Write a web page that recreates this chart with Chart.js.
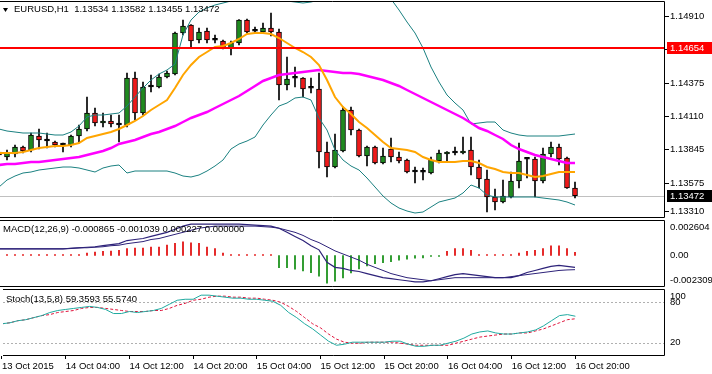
<!DOCTYPE html>
<html lang="en">
<head>
<meta charset="utf-8">
<title>EURUSD,H1</title>
<script src="https://cdn.jsdelivr.net/npm/chart.js@4.4.1/dist/chart.umd.min.js"></script>
<style>
    html, body { margin: 0; padding: 0; background: #fff; }
    body { position: relative; width: 712px; height: 374px; overflow: hidden; }
    canvas { position: absolute; left: 0; }
</style>
</head>
<body>
<canvas id="price" width="712" height="219" style="top:0"></canvas>
<canvas id="macd" width="712" height="70" style="top:219px"></canvas>
<canvas id="stoch" width="712" height="86" style="top:288px"></canvas>
<script>
'use strict';

// ---- values ----

const symbol = 'EURUSD,H1';
const timeTicks = ['13 Oct 2015', '14 Oct 04:00', '14 Oct 12:00', '14 Oct 20:00', '15 Oct 04:00',
    '15 Oct 12:00', '15 Oct 20:00', '16 Oct 04:00', '16 Oct 12:00', '16 Oct 20:00'];
const BARS_PER_TICK = 8;

const opens = [
    1.13822, 1.13782, 1.13806, 1.13862, 1.13838, 1.13950, 1.13910, 1.13902, 1.13878, 1.13878,
    1.13950, 1.14006, 1.14134, 1.14054, 1.14070, 1.14038, 1.14038, 1.14414, 1.14134, 1.14342,
    1.14342, 1.14422, 1.14446, 1.14774, 1.14838, 1.14718, 1.14790, 1.14718, 1.14710, 1.14654,
    1.14694, 1.14878, 1.14790, 1.14782, 1.14814, 1.14782, 1.14358, 1.14414, 1.14414, 1.14334,
    1.14326, 1.13822, 1.13702, 1.13830, 1.14158, 1.13998, 1.13790, 1.13862, 1.13734, 1.13846,
    1.13782, 1.13758, 1.13662, 1.13662, 1.13654, 1.13750, 1.13806, 1.13814, 1.13814, 1.13838,
    1.13702, 1.13606, 1.13462, 1.13422, 1.13462, 1.13590, 1.13766, 1.13766, 1.13590, 1.13806,
    1.13862, 1.13774, 1.13534,
];
const highs = [
    1.13838, 1.13838, 1.13878, 1.13870, 1.13974, 1.14006, 1.13974, 1.13910, 1.13894, 1.13958,
    1.14038, 1.14262, 1.14174, 1.14134, 1.14118, 1.14118, 1.14454, 1.14462, 1.14382, 1.14438,
    1.14446, 1.14470, 1.14782, 1.14878, 1.14842, 1.14814, 1.14814, 1.14758, 1.14718, 1.14710,
    1.14882, 1.14886, 1.14822, 1.14854, 1.14934, 1.14806, 1.14582, 1.14502, 1.14418, 1.14414,
    1.14454, 1.13902, 1.13966, 1.14182, 1.14182, 1.14006, 1.13870, 1.13870, 1.13854, 1.13934,
    1.13822, 1.13766, 1.13702, 1.13694, 1.13782, 1.13838, 1.13826, 1.13862, 1.13942, 1.13942,
    1.13758, 1.13678, 1.13526, 1.13598, 1.13662, 1.13894, 1.13774, 1.13782, 1.13854, 1.13902,
    1.13886, 1.13782, 1.13582,
];
const lows = [
    1.13782, 1.13758, 1.13782, 1.13814, 1.13822, 1.13846, 1.13854, 1.13862, 1.13822, 1.13862,
    1.13894, 1.13990, 1.14030, 1.14022, 1.14022, 1.13902, 1.14022, 1.14078, 1.14118, 1.14302,
    1.14334, 1.14414, 1.14438, 1.14758, 1.14662, 1.14694, 1.14694, 1.14694, 1.14646, 1.14598,
    1.14678, 1.14774, 1.14774, 1.14774, 1.14750, 1.14238, 1.14318, 1.14342, 1.14262, 1.14294,
    1.13694, 1.13622, 1.13694, 1.13822, 1.13958, 1.13782, 1.13710, 1.13726, 1.13726, 1.13742,
    1.13734, 1.13654, 1.13574, 1.13598, 1.13646, 1.13734, 1.13742, 1.13798, 1.13806, 1.13638,
    1.13534, 1.13342, 1.13358, 1.13414, 1.13454, 1.13534, 1.13614, 1.13462, 1.13574, 1.13782,
    1.13718, 1.13530, 1.13455,
];
const closes = [
    1.13798, 1.13814, 1.13862, 1.13830, 1.13958, 1.13918, 1.13912, 1.13878, 1.13880, 1.13950,
    1.14006, 1.14134, 1.14054, 1.14070, 1.14046, 1.14040, 1.14414, 1.14134, 1.14342, 1.14344,
    1.14422, 1.14454, 1.14774, 1.14830, 1.14710, 1.14782, 1.14718, 1.14716, 1.14654, 1.14694,
    1.14878, 1.14782, 1.14788, 1.14814, 1.14782, 1.14358, 1.14406, 1.14412, 1.14326, 1.14332,
    1.13822, 1.13702, 1.13838, 1.14158, 1.13998, 1.13790, 1.13862, 1.13734, 1.13790, 1.13782,
    1.13750, 1.13662, 1.13664, 1.13660, 1.13758, 1.13814, 1.13822, 1.13816, 1.13830, 1.13702,
    1.13606, 1.13462, 1.13422, 1.13470, 1.13590, 1.13750, 1.13764, 1.13590, 1.13806, 1.13862,
    1.13766, 1.13534, 1.13472,
];

// orange fast MA, magenta slow MA, teal bands
const maFast = [
    1.13814, 1.13814, 1.13814, 1.13822, 1.13838, 1.13854, 1.13862, 1.13870, 1.13870, 1.13878,
    1.13894, 1.13934, 1.13950, 1.13966, 1.13982, 1.14006, 1.14038, 1.14070, 1.14110, 1.14158,
    1.14198, 1.14238, 1.14334, 1.14438, 1.14518, 1.14582, 1.14622, 1.14662, 1.14670, 1.14694,
    1.14726, 1.14766, 1.14774, 1.14774, 1.14766, 1.14734, 1.14694, 1.14654, 1.14622, 1.14582,
    1.14518, 1.14398, 1.14262, 1.14182, 1.14126, 1.14062, 1.14014, 1.13958, 1.13902, 1.13854,
    1.13846, 1.13838, 1.13822, 1.13782, 1.13758, 1.13742, 1.13742, 1.13742, 1.13750, 1.13750,
    1.13734, 1.13702, 1.13686, 1.13662, 1.13654, 1.13654, 1.13638, 1.13622, 1.13630, 1.13646,
    1.13662, 1.13662, 1.13662,
];
const maSlow = [
    1.13718, 1.13726, 1.13726, 1.13734, 1.13742, 1.13742, 1.13750, 1.13758, 1.13766, 1.13774,
    1.13782, 1.13798, 1.13814, 1.13830, 1.13854, 1.13886, 1.13902, 1.13918, 1.13942, 1.13966,
    1.13982, 1.14006, 1.14030, 1.14062, 1.14094, 1.14118, 1.14142, 1.14174, 1.14206, 1.14238,
    1.14270, 1.14310, 1.14350, 1.14390, 1.14414, 1.14438, 1.14446, 1.14454, 1.14462, 1.14470,
    1.14478, 1.14470, 1.14462, 1.14454, 1.14454, 1.14446, 1.14430, 1.14414, 1.14398, 1.14374,
    1.14350, 1.14318, 1.14286, 1.14254, 1.14222, 1.14190, 1.14158, 1.14126, 1.14094, 1.14054,
    1.14014, 1.13990, 1.13958, 1.13926, 1.13878, 1.13846, 1.13822, 1.13798, 1.13782, 1.13766,
    1.13750, 1.13734, 1.13734,
];
const bandUpper = [
    1.14006, 1.13990, 1.13982, 1.13974, 1.13974, 1.13974, 1.13966, 1.13958, 1.13958, 1.13982,
    1.14030, 1.14102, 1.14118, 1.14118, 1.14126, 1.14134, 1.14190, 1.14262, 1.14334, 1.14398,
    1.14446, 1.14478, 1.14526, 1.14758, 1.14878, 1.14942, 1.14974, 1.14998, 1.15014, 1.15030,
    1.15054, 1.15070, 1.15078, 1.15070, 1.15062, 1.15046, 1.15030, 1.15022, 1.15014, 1.15022,
    1.15038, 1.15062, 1.15086, 1.15102, 1.15110, 1.15110, 1.15102, 1.15086, 1.15062, 1.15046,
    1.14958, 1.14862, 1.14774, 1.14654, 1.14502, 1.14382, 1.14278, 1.14214, 1.14158, 1.14046,
    1.14054, 1.14062, 1.14062, 1.13998, 1.13974, 1.13958, 1.13950, 1.13950, 1.13950, 1.13950,
    1.13950, 1.13958, 1.13966,
];
const bandLower = [
    1.13542, 1.13598, 1.13630, 1.13654, 1.13662, 1.13678, 1.13686, 1.13694, 1.13702, 1.13702,
    1.13694, 1.13678, 1.13662, 1.13694, 1.13710, 1.13718, 1.13654, 1.13670, 1.13670, 1.13670,
    1.13670, 1.13670, 1.13654, 1.13630, 1.13622, 1.13638, 1.13670, 1.13710, 1.13758, 1.13846,
    1.13886, 1.13910, 1.13942, 1.14038, 1.14118, 1.14190, 1.14214, 1.14254, 1.14262, 1.14238,
    1.14094, 1.13998, 1.13838, 1.13758, 1.13710, 1.13678, 1.13614, 1.13542, 1.13470, 1.13414,
    1.13374, 1.13350, 1.13334, 1.13342, 1.13382, 1.13422, 1.13438, 1.13454, 1.13494, 1.13558,
    1.13534, 1.13478, 1.13462, 1.13462, 1.13462, 1.13462, 1.13462, 1.13462, 1.13454, 1.13446,
    1.13438, 1.13422, 1.13398,
];
const resistanceLevel = 1.14654;
const priceTicks = ['1.14910', '1.14645', '1.14375', '1.14110', '1.13845', '1.13575', '1.13310'];
const priceMin = 1.13294;
const priceMax = 1.15030;

const macdLine = [
    0.000491, 0.000491, 0.000491, 0.000491, 0.000491, 0.000491, 0.000491, 0.000491, 0.000491, 0.000529,
    0.000567, 0.000605, 0.000643, 0.000718, 0.000794, 0.000869, 0.001096, 0.001172, 0.001247, 0.001399,
    0.001550, 0.001701, 0.001928, 0.002155, 0.002306, 0.002306, 0.002306, 0.002306, 0.002306, 0.002306,
    0.002306, 0.002268, 0.002230, 0.002192, 0.002155, 0.002003, 0.001701, 0.001399, 0.001096, 0.000718,
    0.000416, -0.000491, -0.000869, -0.000945, -0.001096, -0.001172, -0.001323, -0.001474, -0.001625, -0.001701,
    -0.001777, -0.001852, -0.001928, -0.001928, -0.001852, -0.001701, -0.001550, -0.001399, -0.001323, -0.001399,
    -0.001474, -0.001550, -0.001625, -0.001625, -0.001625, -0.001474, -0.001247, -0.001096, -0.000945, -0.000794,
    -0.000718, -0.000794, -0.000865,
];
const macdSignal = [
    0.000491, 0.000491, 0.000491, 0.000491, 0.000491, 0.000491, 0.000491, 0.000491, 0.000491, 0.000529,
    0.000567, 0.000567, 0.000605, 0.000643, 0.000718, 0.000756, 0.000869, 0.000945, 0.001021, 0.001172,
    0.001247, 0.001399, 0.001550, 0.001701, 0.001852, 0.002003, 0.002079, 0.002155, 0.002155, 0.002155,
    0.002155, 0.002155, 0.002155, 0.002117, 0.002079, 0.002003, 0.001852, 0.001701, 0.001474, 0.001172,
    0.000945, 0.000643, 0.000340, 0.000113, -0.000113, -0.000340, -0.000643, -0.000869, -0.001096, -0.001323,
    -0.001474, -0.001625, -0.001701, -0.001777, -0.001852, -0.001777, -0.001701, -0.001625, -0.001625, -0.001625,
    -0.001625, -0.001625, -0.001625, -0.001625, -0.001550, -0.001474, -0.001399, -0.001323, -0.001247, -0.001172,
    -0.001096, -0.001058, -0.001039,
];
const macdHist = [
    0.000023, 0.000023, 0.000023, 0.000023, 0.000023, 0.000023, 0.000023, 0.000023, 0.000023, 0.000023,
    0.000023, 0.000174, 0.000249, 0.000302, 0.000325, 0.000378, 0.000507, 0.000552, 0.000552, 0.000627,
    0.000627, 0.000756, 0.000885, 0.001005, 0.000930, 0.000885, 0.000627, 0.000507, 0.000174, 0.000076,
    0.000023, 0.000023, 0.000023, 0.000023, 0.000023, -0.000885, -0.000885, -0.001005, -0.001134, -0.001263,
    -0.001512, -0.002019, -0.001890, -0.001641, -0.001285, -0.000983, -0.000756, -0.000605, -0.000529, -0.000454,
    -0.000340, -0.000265, -0.000204, -0.000174, -0.000023, -0.000023, 0.000302, 0.000507, 0.000507, 0.000378,
    0.000023, 0.000023, 0.000023, 0.000023, 0.000023, 0.000174, 0.000302, 0.000378, 0.000507, 0.000703,
    0.000703, 0.000507, 0.000227,
];
const macdTicks = ['0.002604', '0.00', '-0.002309'];

const stochMain = [
    48.1, 49.6, 52.7, 54.2, 57.3, 60.3, 64.9, 67.9, 69.5, 71.0,
    72.5, 74.0, 72.5, 69.5, 63.4, 63.4, 66.4, 64.9, 66.4, 67.9,
    71.0, 77.1, 83.2, 84.7, 84.7, 90.8, 90.8, 89.3, 87.8, 86.3,
    86.3, 84.7, 84.7, 83.2, 81.7, 75.6, 64.9, 57.3, 48.1, 40.5,
    31.3, 22.1, 16.0, 17.6, 20.6, 20.6, 20.6, 20.6, 20.6, 22.1,
    22.1, 17.6, 14.5, 14.5, 16.0, 16.0, 19.1, 22.1, 26.7, 32.8,
    35.9, 37.4, 34.4, 32.8, 32.8, 34.4, 35.9, 38.9, 45.0, 52.7,
    60.3, 61.8, 59.3593,
];
const stochSignal = [
    48.1, 49.6, 52.7, 54.2, 57.3, 60.3, 61.8, 64.9, 66.4, 67.9,
    71.0, 72.5, 72.5, 71.0, 69.5, 67.9, 66.4, 66.4, 66.4, 67.9,
    67.9, 71.0, 75.6, 78.6, 83.2, 84.7, 87.8, 89.3, 89.3, 87.8,
    87.8, 86.3, 86.3, 84.7, 83.2, 80.2, 74.0, 66.4, 57.3, 48.1,
    42.0, 32.8, 25.2, 20.6, 19.1, 19.1, 20.6, 20.6, 20.6, 20.6,
    19.1, 17.6, 16.0, 16.0, 16.0, 16.0, 16.0, 19.1, 22.1, 25.2,
    28.2, 29.8, 31.3, 32.8, 32.8, 34.4, 34.4, 37.4, 40.5, 45.0,
    49.6, 54.2, 55.574,
];
const stochLevels = [80, 20];
const stochTicks = ['100', '80', '20'];

// ---- layout / style ----

const FONT_FAMILY = '"Liberation Sans", Arial, sans-serif';
const FONT = '9.5px ' + FONT_FAMILY;
const AXIS_WIDTH = 47;
// one bar = 8px, first bar sits just left of the pane edge, chart shift leaves room on the right
const X_MIN = 0.125;
const X_MAX = 83.25;

const barIndex = opens.map((_, i) => i);
const last = (arr) => arr[arr.length - 1];

/** Pane frame: top, right and bottom edges of the plot area. */
const framePlugin = {
    id: 'frame',
    afterDraw(chart) {
        const { ctx, chartArea: a } = chart;
        ctx.save();
        ctx.strokeStyle = '#000';
        ctx.lineWidth = 1;
        ctx.beginPath();
        ctx.moveTo(a.left, a.top + 0.5);
        ctx.lineTo(a.right - 0.5, a.top + 0.5);
        ctx.lineTo(a.right - 0.5, a.bottom - 0.5);
        ctx.lineTo(a.left, a.bottom - 0.5);
        ctx.stroke();
        ctx.restore();
    },
};

function drawLevels(chart, list) {
    const { ctx, chartArea: a } = chart;
    const scale = chart.scales.y;
    ctx.save();
    for (const lv of list) {
        const py = Math.round(scale.getPixelForValue(lv.value)) + (lv.width % 2 ? 0.5 : 0);
        ctx.strokeStyle = lv.color;
        ctx.lineWidth = lv.width;
        ctx.setLineDash(lv.dash || []);
        ctx.beginPath();
        ctx.moveTo(a.left, py);
        ctx.lineTo(a.right, py);
        ctx.stroke();
    }
    ctx.restore();
}

/** Horizontal levels, some behind the series and some in front. */
function levelsPlugin(back, front) {
    return {
        id: 'levels',
        beforeDatasetsDraw(chart) { drawLevels(chart, back); },
        afterDatasetsDraw(chart) { drawLevels(chart, front); },
    };
}

/**
 * Right-hand scale the way the terminal draws it: labels sit on their value
 * but are kept inside the pane, plus optional coloured price boxes.
 */
function axisLabelsPlugin(tickTexts, marks, boxes) {
    return {
        id: 'axisLabels',
        afterDraw(chart) {
            const { ctx, chartArea: a } = chart;
            const scale = chart.scales.y;
            const x = a.right + 5;
            ctx.save();
            ctx.font = FONT;
            ctx.textBaseline = 'middle';
            ctx.textAlign = 'left';
            ctx.fillStyle = '#000';
            for (const text of tickTexts) {
                const py = scale.getPixelForValue(Number(text));
                const ty = Math.min(Math.max(py, a.top + 7), a.bottom - 7);
                if (marks) {
                    ctx.fillRect(a.right, Math.round(ty), 4, 1);
                }
                ctx.fillText(text, x, ty);
            }
            for (const box of boxes) {
                const py = Math.round(scale.getPixelForValue(box.value));
                ctx.fillStyle = box.color;
                ctx.fillRect(a.right + 2, py - 6, chart.width - a.right - 2, 12);
                ctx.fillStyle = '#fff';
                ctx.fillText(box.value.toFixed(5), x, py);
            }
            ctx.restore();
        },
    };
}

/** Pane caption in the top-left corner. */
function captionPlugin(text, offsetY, arrow) {
    return {
        id: 'caption',
        afterDraw(chart) {
            const { ctx, chartArea: a } = chart;
            const y = a.top + offsetY;
            let x = a.left + 3;
            ctx.save();
            ctx.fillStyle = '#000';
            if (arrow) {
                ctx.beginPath();
                ctx.moveTo(x, y - 1);
                ctx.lineTo(x + 5, y - 1);
                ctx.lineTo(x + 2.5, y + 3);
                ctx.closePath();
                ctx.fill();
                x += 11;
            }
            ctx.font = FONT;
            ctx.textBaseline = 'middle';
            ctx.fillText(text, x, y);
            ctx.restore();
        },
    };
}

function lineSet(data, color, width, dash) {
    return {
        type: 'line',
        data: data,
        borderColor: color,
        borderWidth: width,
        borderDash: dash || [],
        pointRadius: 0,
        tension: 0,
        fill: false,
    };
}

const hiddenX = { type: 'linear', min: X_MIN, max: X_MAX, offset: false, display: false, grid: { offset: false } };

const timeAxis = {
    type: 'linear',
    min: X_MIN,
    max: X_MAX,
    offset: false,
    afterBuildTicks: (scale) => {
        scale.ticks = timeTicks.map((_, k) => ({ value: k * BARS_PER_TICK }));
    },
    afterFit: (scale) => { scale.height = 18; },
    grid: { display: true, drawOnChartArea: false, drawTicks: true, tickLength: 3, color: '#000', offset: false },
    border: { display: false },
    ticks: {
        autoSkip: false,
        maxRotation: 0,
        align: 'start',
        padding: 2,
        color: '#000',
        font: { family: FONT_FAMILY, size: 9.5 },
        callback: (value) => timeTicks[value / BARS_PER_TICK],
    },
};

function paneOptions(yMin, yMax, padding, xAxis) {
    return {
        responsive: false,
        animation: false,
        devicePixelRatio: 1,
        layout: { padding: Object.assign({ left: 0, right: 0, top: 0, bottom: 0 }, padding), autoPadding: false },
        plugins: { legend: { display: false }, tooltip: { enabled: false } },
        scales: {
            x: xAxis,
            y: {
                position: 'right',
                min: yMin,
                max: yMax,
                grid: { display: false },
                border: { display: false },
                ticks: { display: false },
                afterFit: (scale) => { scale.width = AXIS_WIDTH; },
            },
        },
    };
}

// ---- price pane ----

const bodyColours = opens.map((o, i) => {
    const c = closes[i];
    if (Math.abs(c - o) < 0.00003) return '#000';
    return c > o ? '#1f8a1f' : '#ee1a1a';
});

new Chart(document.getElementById('price'), {
    type: 'bar',
    data: {
        labels: barIndex,
        datasets: [
            lineSet(maFast, '#ffa500', 2),
            lineSet(maSlow, '#ff00ff', 2.5),
            lineSet(bandUpper, '#1a8080', 1),
            lineSet(bandLower, '#1a8080', 1),
            {
                label: 'body',
                data: opens.map((o, i) => [o, closes[i]]),
                backgroundColor: bodyColours,
                borderColor: '#000',
                borderWidth: 1,
                borderSkipped: false,
                barThickness: 5,
                minBarLength: 2,
                grouped: false,
            },
            {
                label: 'wick',
                data: lows.map((l, i) => [l, highs[i]]),
                backgroundColor: '#000',
                barThickness: 1,
                grouped: false,
            },
        ],
    },
    options: paneOptions(priceMin, priceMax, { top: 1, bottom: 1 }, hiddenX),
    plugins: [
        levelsPlugin(
            [{ value: last(closes), color: '#c0c0c0', width: 1 }],
            [{ value: resistanceLevel, color: '#ff0000', width: 2 }],
        ),
        framePlugin,
        axisLabelsPlugin(priceTicks, true, [
            { value: resistanceLevel, color: '#ff0000' },
            { value: last(closes), color: '#000' },
        ]),
        captionPlugin(symbol + '  ' + [last(opens), last(highs), last(lows), last(closes)]
            .map((v) => v.toFixed(5)).join(' '), 8, true),
    ],
});

// ---- MACD pane ----

new Chart(document.getElementById('macd'), {
    type: 'bar',
    data: {
        labels: barIndex,
        datasets: [
            lineSet(macdSignal, '#2d2279', 1),
            lineSet(macdLine, '#2d2279', 1.2),
            { data: macdHist.map((v) => (v >= 0 ? v : null)), backgroundColor: '#e00000', barThickness: 1, minBarLength: 1, grouped: false },
            { data: macdHist.map((v) => (v < 0 ? v : null)), backgroundColor: '#0a8a0a', barThickness: 1, minBarLength: 1, grouped: false },
        ],
    },
    options: paneOptions(Number(macdTicks[2]), Number(macdTicks[0]), { top: 1, bottom: 2 }, hiddenX),
    plugins: [
        framePlugin,
        axisLabelsPlugin(macdTicks, false, []),
        captionPlugin('MACD(12,26,9) ' + [last(macdLine), last(macdSignal), Math.max(last(macdHist), 0),
            Math.max(-last(macdHist), 0)].map((v) => v.toFixed(6)).join(' '), 9, false),
    ],
});

// ---- Stochastic pane ----

new Chart(document.getElementById('stoch'), {
    type: 'line',
    data: {
        labels: barIndex,
        datasets: [
            lineSet(stochMain, '#20aaa0', 1),
            lineSet(stochSignal, '#e0143c', 1, [3, 2]),
        ],
    },
    options: paneOptions(0, Number(stochTicks[0]), { top: 1, bottom: 0 }, timeAxis),
    plugins: [
        levelsPlugin(stochLevels.map((v) => ({ value: v, color: '#b0b0b0', width: 1, dash: [2, 2] })), []),
        framePlugin,
        axisLabelsPlugin(stochTicks, false, []),
        captionPlugin('Stoch(13,5,8) ' + last(stochMain).toFixed(4) + ' ' + last(stochSignal).toFixed(4), 10, false),
    ],
});
</script>
</body>
</html>
